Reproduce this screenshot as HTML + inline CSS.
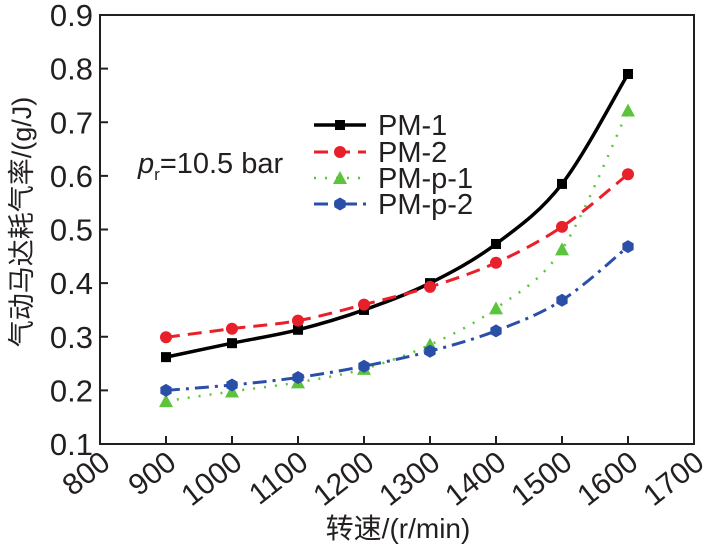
<!DOCTYPE html>
<html><head><meta charset="utf-8"><style>
html,body{margin:0;padding:0;background:#fff;}
svg{display:block;font-family:"Liberation Sans","Noto Sans CJK SC",sans-serif;}
</style></head><body>
<svg width="712" height="553" viewBox="0 0 712 553">
<g id="axes"></g>
<g id="series"></g>
<g id="legend"></g>
<text x="138" y="173" font-size="29" fill="#231f20"><tspan font-style="italic">p</tspan><tspan font-size="17" dy="7">r</tspan><tspan dy="-7">=10.5 bar</tspan></text>
<text x="398" y="538" font-size="28" fill="#231f20" text-anchor="middle">转速/(r/min)</text>
<text transform="translate(31,222) rotate(-90)" font-size="27" fill="#231f20" text-anchor="middle">气动马达耗气率/(g/J)</text>
</svg>
<script>
const speeds=[900,1000,1100,1200,1300,1400,1500,1600];
const pm1=[0.262,0.288,0.313,0.350,0.400,0.473,0.585,0.790];
const pm2=[0.299,0.315,0.330,0.360,0.393,0.438,0.505,0.603];
const pmp1=[0.180,0.198,0.215,0.240,0.285,0.353,0.463,0.722];
const pmp2=[0.200,0.210,0.224,0.245,0.273,0.311,0.368,0.468];
const xTicks=[800,900,1000,1100,1200,1300,1400,1500,1600,1700];
const yTicks=[0.1,0.2,0.3,0.4,0.5,0.6,0.7,0.8,0.9];
const seriesNames=["PM-1","PM-2","PM-p-1","PM-p-2"];

const NS="http://www.w3.org/2000/svg";
const L=100,R=694,T=15,B=444;
const xs=v=>L+(v-800)/(1700-800)*(R-L);
const ys=v=>B-(v-0.1)/(0.9-0.1)*(B-T);
function mk(tag,attrs,parent){const e=document.createElementNS(NS,tag);for(const k in attrs)e.setAttribute(k,attrs[k]);parent.appendChild(e);return e;}
const axes=document.getElementById('axes');
const frame=mk('rect',{x:L,y:T,width:R-L,height:B-T,fill:'none',stroke:'#231f20','stroke-width':2},axes);


xTicks.forEach(t=>{
  const x=xs(t);
  if(t>800&&t<1700){const tk=mk('line',{x1:x,x2:x,y1:B,y2:B-8,stroke:'#231f20','stroke-width':2},axes);
  
  }
  const lb=mk('text',{transform:`translate(${x+12},${B+22}) rotate(-38)`,'font-size':30,'text-anchor':'end',fill:'#231f20'},axes);
  lb.textContent=t;
  
  
});
yTicks.forEach(t=>{
  const y=ys(t);
  if(t>0.1&&t<0.9){const tk=mk('line',{x1:L,x2:L+8,y1:y,y2:y,stroke:'#231f20','stroke-width':2},axes);
  
  }
  const lb=mk('text',{x:93,y:y+11,'font-size':31,'text-anchor':'end',fill:'#231f20'},axes);
  lb.textContent=t.toFixed(1);
  
  
});
function curve(pts){
  let d=`M${pts[0][0]},${pts[0][1]}`;
  for(let i=0;i<pts.length-1;i++){
    const p0=pts[i-1]||pts[i],p1=pts[i],p2=pts[i+1],p3=pts[i+2]||p2;
    const c1=[p1[0]+(p2[0]-p0[0])/6,p1[1]+(p2[1]-p0[1])/6];
    const c2=[p2[0]-(p3[0]-p1[0])/6,p2[1]-(p3[1]-p1[1])/6];
    d+=` C${c1[0]},${c1[1]} ${c2[0]},${c2[1]} ${p2[0]},${p2[1]}`;
  }
  return d;
}
const styles=[
 {data:pm1,color:'#000000',dash:'',w:3.5,m:'square'},
 {data:pm2,color:'#e8202a',dash:'14 8',w:3,m:'circle'},
 {data:pmp1,color:'#5cc43c',dash:'2 9',w:2.5,m:'tri'},
 {data:pmp2,color:'#2a4fa8',dash:'14 6 3 6',w:3,m:'hex'}
];
function marker(g,type,x,y,color){
  let e;
  if(type==='square')e=mk('rect',{x:x-5,y:y-5,width:10,height:10,fill:color},g);
  else if(type==='circle')e=mk('circle',{cx:x,cy:y,r:6,fill:color},g);
  else if(type==='tri')e=mk('polygon',{points:`${x},${y-7} ${x+7},${y+6} ${x-7},${y+6}`,fill:color},g);
  else {const p=[];for(let k=0;k<6;k++){const a=Math.PI/3*k+Math.PI/2;p.push(`${x+6.5*Math.cos(a)},${y+6.5*Math.sin(a)}`);}e=mk('polygon',{points:p.join(' '),fill:color},g);}
  return e;
}
const sg=document.getElementById('series');
styles.forEach((s,i)=>{
  const g=mk('g',{},sg);
  
  
  const pts=speeds.map((v,j)=>[xs(v),ys(s.data[j])]);
  const p=mk('path',{d:curve(pts),fill:'none',stroke:s.color,'stroke-width':s.w,'stroke-dasharray':s.dash},g);
  
  
  pts.forEach(pt=>{const m=marker(g,s.m,pt[0],pt[1],s.color);
    
    });
});
const lg=document.getElementById('legend');
const rowsY=[125,152,178,204];
styles.forEach((s,i)=>{
  const g=mk('g',{},lg);
  
  
  const y=rowsY[i];
  mk('line',{x1:314,x2:366,y1:y,y2:y,stroke:s.color,'stroke-width':s.w,'stroke-dasharray':s.dash},g);
  marker(g,s.m,340,y,s.color);
  const t=mk('text',{x:378,y:y+10,'font-size':29,fill:'#231f20'},g);
  t.textContent=seriesNames[i];
});
</script>
</body></html>
